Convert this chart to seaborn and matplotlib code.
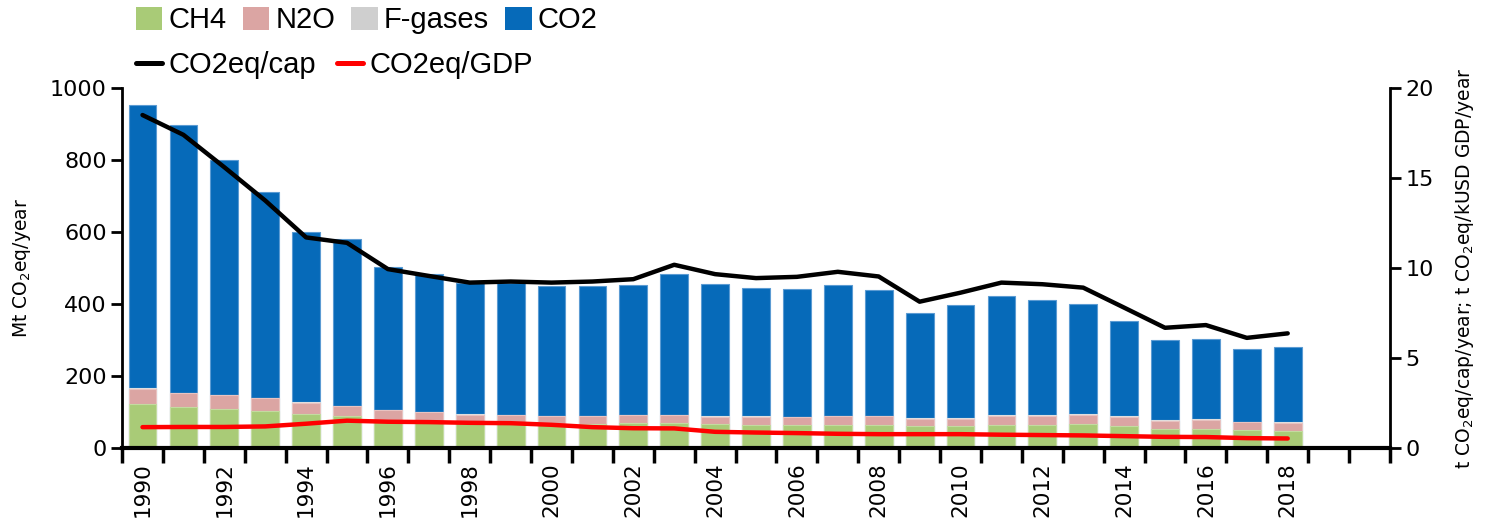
import numpy as np
import pandas as pd
import seaborn as sns
import matplotlib.pyplot as plt
from matplotlib.patches import Patch
from matplotlib.lines import Line2D


years = list(range(1990, 2019))

ch4 = [122, 113, 109, 104, 95, 88, 79, 74, 72, 70, 68, 66, 69, 69, 66,
       65, 64, 65, 65, 61, 61, 64, 64, 66, 61, 54, 54, 50, 48]
n2o = [43, 40, 37, 34, 31, 28, 26, 25, 21, 21, 20, 23, 22, 22, 20,
       21, 21, 23, 23, 21, 21, 26, 26, 26, 25, 21, 25, 21, 21]
fgases = [1, 1, 1, 1, 1, 1, 1, 1, 1, 1, 1, 1, 1, 1, 2,
          2, 2, 2, 2, 2, 2, 2, 2, 2, 2, 2, 2, 2, 2]
co2 = [788, 744, 654, 571, 472, 465, 398, 383, 365, 366, 361, 359, 360, 392, 369,
       356, 356, 364, 350, 291, 312, 329, 319, 307, 265, 223, 222, 201, 209]

per_cap = [18.5, 17.4, 15.6, 13.75, 11.7, 11.4, 9.94, 9.56, 9.19, 9.25, 9.19, 9.25, 9.38, 10.18, 9.66,
           9.44, 9.51, 9.79, 9.53, 8.13, 8.63, 9.19, 9.1, 8.91, 7.8, 6.68, 6.83, 6.12, 6.37]
per_gdp = [1.16, 1.17, 1.17, 1.2, 1.35, 1.52, 1.46, 1.44, 1.4, 1.38, 1.29, 1.16, 1.1, 1.09, 0.9,
           0.86, 0.83, 0.79, 0.77, 0.77, 0.77, 0.74, 0.72, 0.7, 0.66, 0.62, 0.61, 0.55, 0.53]

colors = {
    'CH4': '#a9cb77',
    'N2O': '#dba5a3',
    'F-gases': '#cfcfcf',
    'CO2': '#066ab9',
}
edges = {
    'CH4': '#c3dba0',
    'N2O': '#e8c3c1',
    'F-gases': '#e0e0e0',
    'CO2': '#5b9bd3',
}

sns.set_style('ticks')
plt.rcParams['font.family'] = ['DejaVu Sans']
plt.rcParams.update({
    'text.color': 'black',
    'axes.labelcolor': 'black',
    'axes.edgecolor': 'black',
    'xtick.color': 'black',
    'ytick.color': 'black',
})

df = pd.DataFrame({
    'year': [str(y) for y in years],
    'CH4': ch4,
    'N2O': n2o,
    'F-gases': fgases,
    'CO2': co2,
})

fig = plt.figure(figsize=(14.85, 5.24), dpi=100)
ax = fig.add_axes([0.0822, 0.145, 0.936 - 0.0822, 0.687])
ax2 = ax.twinx()

# stacked bars: draw cumulative totals back to front
order = ['CH4', 'N2O', 'F-gases', 'CO2']
for i in range(len(order), 0, -1):
    key = order[i - 1]
    cum = df[order[:i]].sum(axis=1)
    sns.barplot(x=df['year'], y=cum, color=colors[key], saturation=1,
                width=0.68, errorbar=None, linewidth=0.8, edgecolor=edges[key], ax=ax)

pos = np.arange(len(years))
sns.lineplot(x=pos, y=per_cap, color='black', linewidth=3.2, ax=ax2)
sns.lineplot(x=pos, y=per_gdp, color='#ff0000', linewidth=3.2, ax=ax2)

ax.set_ylim(0, 1000)
ax2.set_ylim(0, 20)
ax.set_xlim(-0.5, 30.5)

ax.set_yticks(range(0, 1001, 200))
ax2.set_yticks(range(0, 21, 5))

ax.set_xticks(pos[::2])
ax.set_xticklabels(years[::2], rotation=90)
ax.set_xticks(np.arange(-0.5, 31, 1), minor=True)

ax.tick_params(axis='x', which='major', length=0, pad=10, labelsize=15.5)
ax.tick_params(axis='x', which='minor', length=11, width=2.5, direction='out')
ax.tick_params(axis='y', length=8, width=2, pad=3, labelsize=16)
ax2.tick_params(axis='y', length=8, width=2, pad=3, labelsize=16)

for a in (ax, ax2):
    a.spines['top'].set_visible(False)
    for s in a.spines.values():
        s.set_linewidth(2)
ax.spines['right'].set_visible(False)
ax2.spines['left'].set_visible(False)
ax.spines['bottom'].set_linewidth(3)

ax.set_xlabel('')
ax.set_ylabel('Mt CO$_2$eq/year', fontsize=13.5, labelpad=12)
ax2.set_ylabel('t CO$_2$eq/cap/year; t CO$_2$eq/kUSD GDP/year', fontsize=13.5, labelpad=14)

legend_font = {'family': ['Liberation Sans', 'DejaVu Sans'], 'size': 21}
patches = [Patch(facecolor=colors[k], edgecolor='none', label=k) for k in order]
fig.legend(handles=patches, loc='center left', bbox_to_anchor=(0.0916, 0.961), ncol=4,
           frameon=False, prop=legend_font, handlelength=0.9, handleheight=0.86,
           handletextpad=0.22, columnspacing=0.55, borderaxespad=0, borderpad=0)
lines = [Line2D([0], [0], color='black', linewidth=3.6, label='CO2eq/cap'),
         Line2D([0], [0], color='#ff0000', linewidth=3.6, label='CO2eq/GDP')]
fig.legend(handles=lines, loc='center left', bbox_to_anchor=(0.0916, 0.876), ncol=2,
           frameon=False, prop=legend_font, handlelength=0.9,
           handletextpad=0.22, columnspacing=0.7, borderaxespad=0, borderpad=0)

plt.savefig('out.png', dpi=100)
